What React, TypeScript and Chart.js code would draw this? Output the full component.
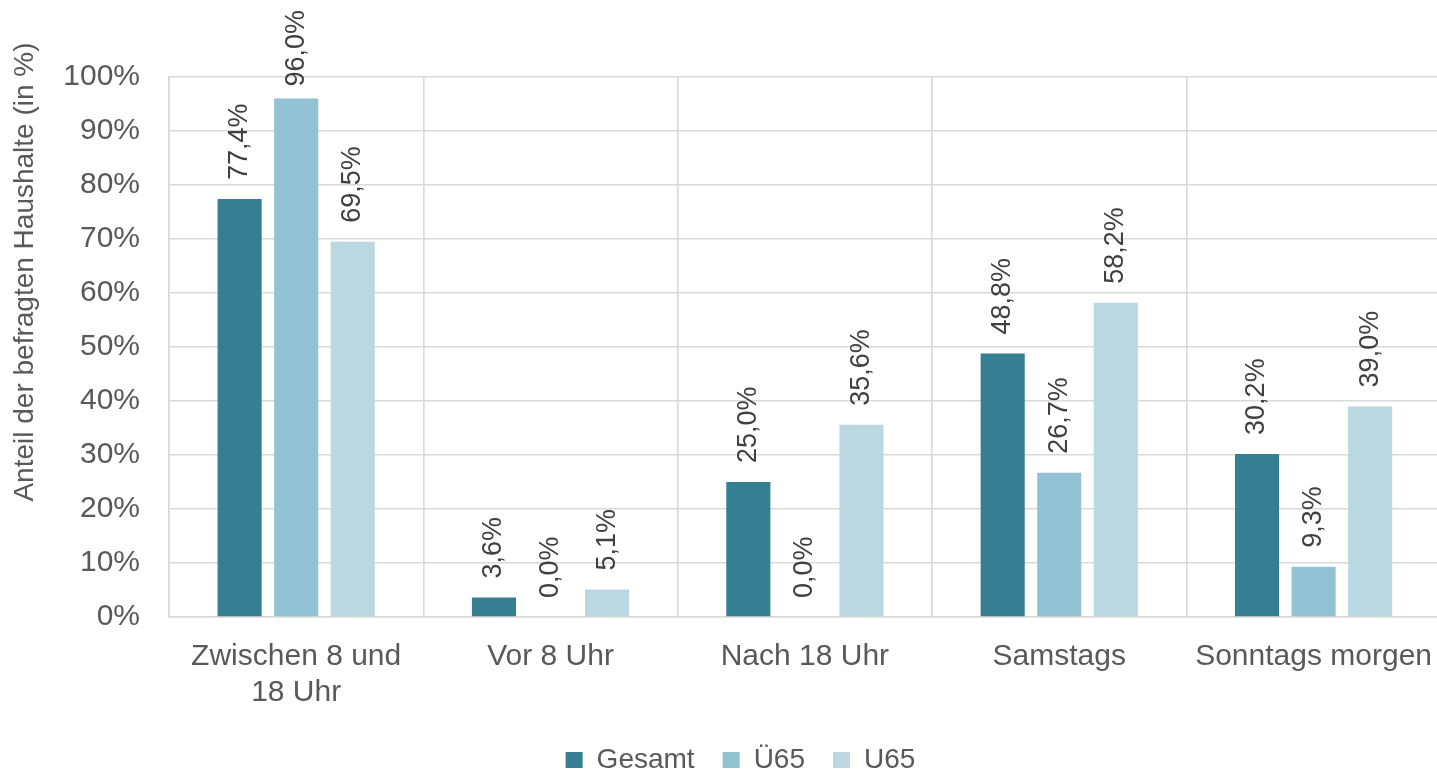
import React, { useEffect, useRef } from 'react';
import { Chart, registerables } from 'chart.js';

Chart.register(...registerables);

const FONT = '"Liberation Sans", Arial, sans-serif';

const categories: (string | string[])[] = [
  ['Zwischen 8 und', '18 Uhr'],
  'Vor 8 Uhr',
  'Nach 18 Uhr',
  'Samstags',
  'Sonntags morgen',
];
const seriesNames = ['Gesamt', 'Ü65', 'U65'];
const gesamt = [77.4, 3.6, 25.0, 48.8, 30.2];
const ue65 = [96.0, 0.0, 0.0, 26.7, 9.3];
const u65 = [69.5, 5.1, 35.6, 58.2, 39.0];
const seriesColors = ['#367F93', '#92C2D3', '#BBD7E2'];
const yMin = 0;
const yMax = 100;
const yStep = 10;
const yTitle = 'Anteil der befragten Haushalte (in %)';

const W = 1453;
const H = 774;

const fmt = (v: number) => v.toFixed(1).replace('.', ',') + '%';

const labelPlugin = {
  id: 'valueLabels',
  afterDatasetsDraw(chart: any) {
    const ctx = chart.ctx as CanvasRenderingContext2D;
    ctx.save();
    ctx.font = `27px ${FONT}`;
    ctx.fillStyle = '#404040';
    ctx.textAlign = 'left';
    ctx.textBaseline = 'middle';
    chart.data.datasets.forEach((ds: any, di: number) => {
      const meta = chart.getDatasetMeta(di);
      meta.data.forEach((bar: any, i: number) => {
        const text = fmt(ds.data[i]);
        const w = ctx.measureText(text).width;
        let start = bar.y - 19;
        if (start - w < 10) start = 10 + w;
        ctx.save();
        ctx.translate(bar.x, start);
        ctx.rotate(-Math.PI / 2);
        ctx.fillText(text, 0, 0);
        ctx.restore();
      });
    });
    ctx.font = `28px ${FONT}`;
    ctx.fillStyle = '#595959';
    ctx.textAlign = 'center';
    ctx.textBaseline = 'middle';
    ctx.translate(25, 272);
    ctx.rotate(-Math.PI / 2);
    ctx.fillText(yTitle, 0, 0);
    ctx.restore();
  },
};

export default function App() {
  const ref = useRef<HTMLCanvasElement | null>(null);
  useEffect(() => {
    document.body.style.margin = '0';
    document.body.style.overflow = 'hidden';
    const canvas = ref.current!;
    const chart = new Chart(canvas, {
      type: 'bar',
      data: {
        labels: categories as any,
        datasets: [gesamt, ue65, u65].map((d, i) => ({
          label: seriesNames[i],
          data: d,
          backgroundColor: seriesColors[i],
          borderWidth: 0,
          barPercentage: 0.78,
          categoryPercentage: 0.667,
        })),
      },
      options: {
        responsive: false,
        animation: false,
        layout: { padding: { left: 28, top: 77, right: 0, bottom: 0 } },
        plugins: {
          tooltip: { enabled: false },
          legend: {
            position: 'bottom',
            maxHeight: 56,
            labels: {
              boxWidth: 17,
              boxHeight: 16,
              padding: 28,
              color: '#595959',
              font: { family: FONT, size: 28 },
            },
          },
        },
        scales: {
          x: {
            grid: { color: '#D9D9D9', lineWidth: 1.6, drawTicks: false, offset: true },
            border: { color: '#D9D9D9', width: 1.6 },
            ticks: {
              color: '#595959',
              padding: 21,
              maxRotation: 0,
              autoSkip: false,
              font: { family: FONT, size: 30, lineHeight: 1.22 },
            },
            afterFit: (s: any) => {
              s.height = 101;
            },
          },
          y: {
            min: yMin,
            max: yMax,
            grid: { color: '#D9D9D9', lineWidth: 1.6, drawTicks: false },
            border: { color: '#D9D9D9', width: 1.6 },
            ticks: {
              stepSize: yStep,
              color: '#595959',
              padding: 29,
              font: { family: FONT, size: 30 },
              callback: (v: any) => v + '%',
            },
            afterFit: (s: any) => {
              s.width = 141;
            },
          },
        },
      },
      plugins: [labelPlugin],
    });
    return () => chart.destroy();
  }, []);
  return (
    <div style={{ width: W, height: H, position: 'relative' }}>
      <canvas ref={ref} width={W} height={H} style={{ display: 'block' }} />
    </div>
  );
}
